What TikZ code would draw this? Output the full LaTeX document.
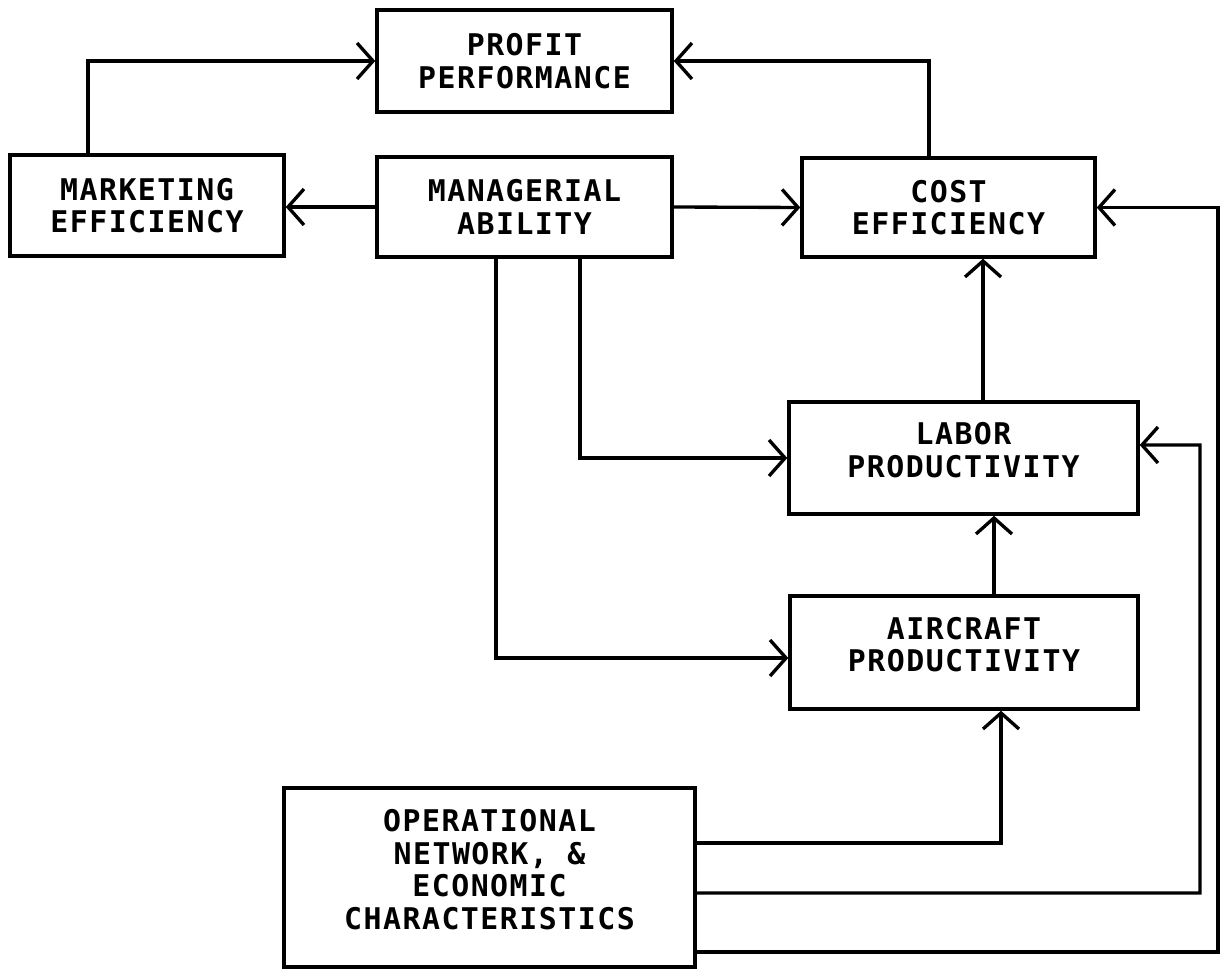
\documentclass[tikz,border=0pt]{standalone}
\usepackage{fontspec}
\newfontfamily\typer[LetterSpace=5,BoldFont={DejaVu Sans Mono Bold}]{DejaVu Sans Mono}
\usepackage{tikz}
\usetikzlibrary{arrows.meta}

\begin{document}
\begin{tikzpicture}[x=0.02cm, y=-0.02cm,
  block/.style={draw, line width=2pt, inner sep=0pt, align=center,
    font=\typer\bfseries\fontsize{17}{18.5}\selectfont},
  high/.style={text depth=0.33cm},
  flow/.style={line width=1.9pt,
    -{Straight Barb[length=0.32cm,width=0.72cm,line width=1.9pt]}}]
  \useasboundingbox (0,0) rectangle (1224,969);
  \node [block, minimum width=5.9cm, minimum height=2.04cm] (profit) at (524.5,61) {PROFIT\\PERFORMANCE};
  \node [block, minimum width=5.48cm, minimum height=2.02cm] (mkt) at (147,205.5) {MARKETING\\EFFICIENCY};
  \node [block, minimum width=5.9cm, minimum height=2cm] (mgr) at (524.5,207) {MANAGERIAL\\ABILITY};
  \node [block, minimum width=5.86cm, minimum height=1.98cm] (cost) at (948.5,207.5) {COST\\EFFICIENCY};
  \node [block, high, minimum width=6.98cm, minimum height=2.24cm] (labor) at (963.5,458) {LABOR\\PRODUCTIVITY};
  \node [block, high, minimum width=6.96cm, minimum height=2.26cm] (air) at (964,652.5) {AIRCRAFT\\PRODUCTIVITY};
  \node [block, high, minimum width=8.22cm, minimum height=3.58cm] (oper) at (489.5,877.5) {OPERATIONAL\\NETWORK, \&\\ECONOMIC\\CHARACTERISTICS};

  \coordinate (lt) at ([xshift=0.39cm]labor.north);
  \coordinate (at) at ([xshift=0.6cm]air.north);
  \coordinate (ab) at ([xshift=0.74cm]air.south);
  \coordinate (le) at ([yshift=0.26cm]labor.east);
  \coordinate (o1) at ([yshift=0.69cm]oper.east);
  \coordinate (o2) at ([yshift=-0.31cm]oper.east);
  \coordinate (o3) at ([yshift=-1.49cm]oper.east);
  \coordinate (rail1) at (1200,445);
  \coordinate (rail2) at (1218,207.5);

  \draw [flow] ([xshift=-1.18cm]mkt.north) |- (profit.west);
  \draw [flow] ([xshift=-0.39cm]cost.north) |- (profit.east);
  \draw [flow] (mgr.west) -- (mgr.west -| mkt.east);
  \draw [flow] (mgr.east) -- (cost.west);
  \draw [flow] ([xshift=1.11cm]mgr.south) |- (labor.west);
  \draw [flow] ([xshift=-0.57cm]mgr.south) |- ([yshift=-0.11cm]air.west);
  \draw [flow] (lt) -- (lt |- cost.south);
  \draw [flow] (at) -- (at |- labor.south);
  \draw [flow] (o1) -| (ab);
  \draw [flow] (o2) -| (rail1) -- (le);
  \draw [flow] (o3) -| (rail2) -- (cost.east);
\end{tikzpicture}
\end{document}
